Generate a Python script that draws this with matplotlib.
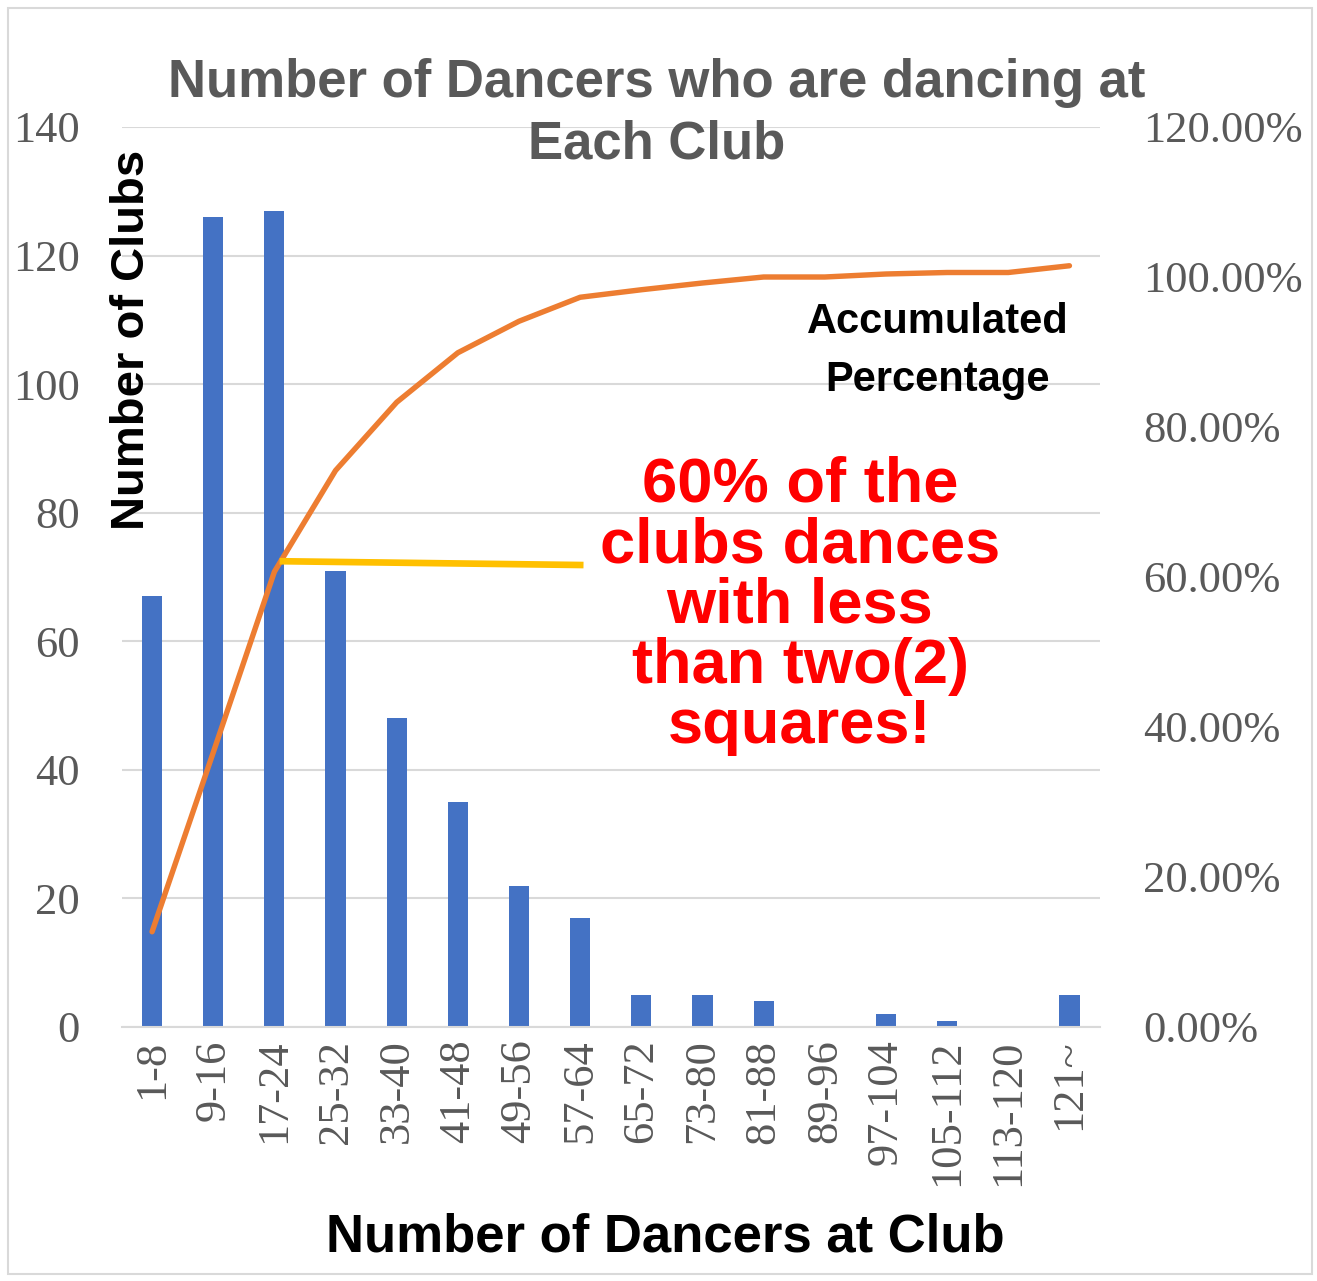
import matplotlib.pyplot as plt
import numpy as np
from matplotlib.patches import Rectangle

categories = ['1-8', '9-16', '17-24', '25-32', '33-40', '41-48', '49-56', '57-64',
              '65-72', '73-80', '81-88', '89-96', '97-104', '105-112', '113-120', '121~']
clubs = [67, 126, 127, 71, 48, 35, 22, 17, 5, 5, 4, 0, 2, 1, 0, 5]
accum_pct = [12.7, 36.6, 60.7, 74.2, 83.3, 89.9, 94.1, 97.3,
             98.3, 99.2, 100.0, 100.0, 100.4, 100.6, 100.6, 101.5]
left_ticks = list(range(0, 141, 20))
right_ticks = list(range(0, 121, 20))

W, H = 1317, 1281
serif = 'Liberation Serif'
sans = 'Liberation Sans'
grey = '#595959'

fig = plt.figure(figsize=(W / 100, H / 100), dpi=100)

# chart border
fig.patches.append(Rectangle((8 / W, 7 / H), 1304 / W, 1266 / H, transform=fig.transFigure,
                             fill=False, edgecolor='#D9D9D9', lw=1.5))

ax = fig.add_axes([121.5 / W, 1 - 1027 / H, (1100 - 121.5) / W, 900 / H])
x = np.arange(len(categories))
ax.bar(x, clubs, width=0.33, color='#4472C4', zorder=2)
ax.set_xlim(-0.5, len(categories) - 0.5)
ax.set_ylim(0, 140)
ax.set_yticks(left_ticks)
ax.set_xticks(x)
ax.set_xticklabels(categories, rotation=90, va='top', ha='center')
ax.grid(axis='y', color='#D9D9D9', lw=1.5)
ax.set_axisbelow(True)
for s in ['top', 'left', 'right']:
    ax.spines[s].set_visible(False)
ax.spines['bottom'].set_color('#D9D9D9')
ax.spines['bottom'].set_linewidth(1.5)
ax.tick_params(axis='both', length=0, labelsize=32, labelcolor=grey)
ax.tick_params(axis='y', pad=30)
ax.tick_params(axis='x', pad=9)
for lab in ax.get_xticklabels() + ax.get_yticklabels():
    lab.set_fontfamily(serif)

ax2 = ax.twinx()
ax2.plot(x, accum_pct, color='#ED7D31', lw=3.9, solid_capstyle='round',
         solid_joinstyle='round', zorder=3)
# highlight line for the 60% mark
ax2.plot([2.14, 7.0], [62.1, 61.6], color='#FFC000', lw=4.8, zorder=4)
ax2.set_ylim(0, 120)
ax2.set_yticks(right_ticks)
ax2.set_yticklabels([f'{v:.2f}%' for v in right_ticks])
for s in ax2.spines.values():
    s.set_visible(False)
ax2.tick_params(axis='y', length=0, labelsize=32, labelcolor=grey, pad=31)
for lab in ax2.get_yticklabels():
    lab.set_fontfamily(serif)

fig.text(657 / W, 1 - 114 / H, 'Number of Dancers who are dancing at\nEach Club',
         ha='center', va='center', fontsize=38, fontweight='bold', color=grey,
         family=sans, linespacing=1.29)
fig.text(132 / W, 1 - 340 / H, 'Number of Clubs', rotation=90, ha='center', va='center',
         fontsize=34, fontweight='bold', color='black', family=sans)
fig.text(665 / W, 1 - 1237 / H, 'Number of Dancers at Club', ha='center', va='center',
         fontsize=38, fontweight='bold', color='black', family=sans)
fig.text(938 / W, 1 - 351 / H, 'Accumulated\nPercentage', ha='center', va='center',
         fontsize=30, fontweight='bold', color='black', family=sans, linespacing=1.56)
fig.text(800 / W, 1 - 606 / H, '60% of the\nclubs dances\nwith less\nthan two(2)\nsquares!',
         ha='center', va='center', fontsize=45.5, fontweight='bold', color='#FF0000',
         family=sans, linespacing=1.03)

fig.savefig('out.png', dpi=100)
